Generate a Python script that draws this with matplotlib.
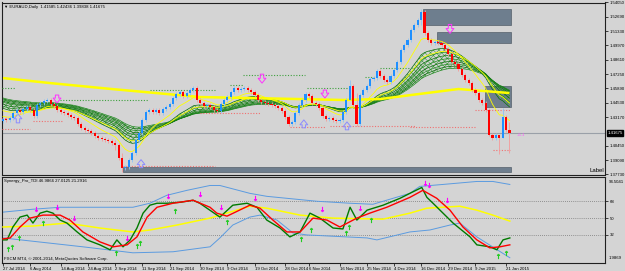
import numpy as np
import matplotlib
matplotlib.use("Agg")
import matplotlib.pyplot as plt
import matplotlib.transforms as mtransforms
from matplotlib.patches import Rectangle

plt.rcParams["font.family"] = ["Liberation Sans", "DejaVu Sans"]
plt.rcParams["hatch.linewidth"] = 0.4

# ---- price data (daily EURAUD closes) ----
CLOSES = [
    1.4301, 1.4291, 1.4310, 1.4357, 1.4386, 1.4367, 1.4395, 1.4414, 1.4386, 1.4329,
    1.4433, 1.4452, 1.4471, 1.4480, 1.4442, 1.4423, 1.4386, 1.4367, 1.4357, 1.4338,
    1.4320, 1.4310, 1.4253, 1.4216, 1.4197, 1.4187, 1.4168, 1.4140, 1.4121, 1.4112,
    1.4102, 1.4093, 1.4074, 1.4055, 1.3932, 1.3838, 1.3848, 1.3914, 1.3980, 1.4102,
    1.4168, 1.4291, 1.4367, 1.4386, 1.4367, 1.4386, 1.4357, 1.4395, 1.4414, 1.4442,
    1.4499, 1.4537, 1.4555, 1.4518, 1.4546, 1.4574, 1.4593, 1.4480, 1.4452, 1.4423,
    1.4433, 1.4414, 1.4386, 1.4376, 1.4442, 1.4480, 1.4508, 1.4555, 1.4593, 1.4574,
    1.4584, 1.4593, 1.4574, 1.4555, 1.4527, 1.4480, 1.4461, 1.4452, 1.4442, 1.4433,
    1.4423, 1.4405, 1.4376, 1.4320, 1.4253, 1.4272, 1.4357, 1.4433, 1.4480, 1.4537,
    1.4518, 1.4452, 1.4442, 1.4405, 1.4329, 1.4301, 1.4310, 1.4291, 1.4282, 1.4291,
    1.4367, 1.4480, 1.4612, 1.4433, 1.4253, 1.4527, 1.4574, 1.4612, 1.4678, 1.4688,
    1.4754, 1.4707, 1.4669, 1.4650, 1.4707, 1.4763, 1.4839, 1.4952, 1.4999, 1.5046,
    1.5141, 1.5188, 1.5235, 1.5311, 1.5112, 1.5046, 1.5018, 1.5028, 1.5018, 1.4999,
    1.4961, 1.4914, 1.4839, 1.4820, 1.4773, 1.4716, 1.4669, 1.4640, 1.4574, 1.4546,
    1.4480, 1.4452, 1.4386, 1.4150, 1.4121, 1.4150, 1.4121, 1.4319, 1.4197, 1.41675,
]
FIRST_OPEN = 1.4282
# bars with long wicks: index -> (high, low)
WICKS = {
    9: (1.4405, 1.4310), 33: (1.4102, 1.4008), 35: (1.3980, 1.3800),
    102: (1.4669, 1.4480), 104: (1.4546, 1.4230), 123: (1.5348, 1.5188),
    143: (1.4405, 1.4140), 146: (1.4150, 1.3970), 147: (1.4405, 1.4121),
    149: (1.4272, 1.3980),
}
LAST_PRICE = 1.41675

# long yellow moving average (bar, value)
SLOW_MA_BARS = [0, 14, 32, 58, 87, 100, 111, 120, 134, 149]
SLOW_MA_VALS = [1.4688, 1.4640, 1.4584, 1.4508, 1.4489, 1.4480, 1.4489, 1.4527, 1.4584, 1.4546]

# green EMA ribbon: periods and starting values
RIBBON_PERIODS = [18, 22, 26, 30, 34, 38, 42, 46]
RIBBON_SEEDS = [1.4414, 1.4433, 1.4452, 1.4471, 1.4480, 1.4490, 1.4499, 1.4508]
# thin yellow EMAs
FAST_PERIODS = [10, 21]
FAST_SEEDS = [1.4330, 1.4386]

# supply / demand zones: (bar0, bar1, low, high)
ZONES = [
    (123.5, 149.5, 1.5188, 1.5339),
    (127.6, 149.5, 1.5018, 1.5122),
    (141.8, 149.5, 1.4414, 1.4612),
    (35.3, 149.5, 1.3800, 1.3848),
]
# dotted levels: (bar0, bar1, price)
RES_LEVELS = [
    (-0.3, 3.5, 1.4593), (16.8, 42.6, 1.4480), (43.2, 62.4, 1.4574),
    (66.8, 70.6, 1.4622), (70.6, 88.8, 1.4716), (89.4, 101.2, 1.4593),
    (106.5, 109.4, 1.4697), (110.9, 121.2, 1.4782),
]
SUP_LEVELS = [
    (-0.3, 1.5, 1.4310), (-0.3, 7.9, 1.4206), (8.8, 17.6, 1.4282),
    (35.3, 62.4, 1.3858), (57.9, 75.6, 1.4357), (84.4, 94.7, 1.4225),
    (96.2, 121.2, 1.4235), (119.7, 138.8, 1.4225), (138.8, 149.1, 1.4386),
    (144.1, 149.1, 1.4008),
]
# signal arrows: (bar, tail, tip)
BUY_ARROWS = [(4.4, 1.4263, 1.4348), (40.6, 1.3838, 1.3914),
              (88.5, 1.4216, 1.4291), (101.2, 1.4197, 1.4272)]
SELL_ARROWS = [(15.9, 1.4527, 1.4452), (76.2, 1.4725, 1.4640),
               (94.7, 1.4574, 1.4499), (131.5, 1.5197, 1.5112)]

PRICE_TICKS = [1.37730, 1.39090, 1.40450, 1.43170, 1.44530, 1.45890, 1.47250,
               1.48610, 1.49970, 1.51330, 1.52690, 1.54050]

# ---- TDI sub window (bar, value) ----
TDI_GREEN_X = [0, 1.2, 2.9, 5.0, 7.1, 8.8, 10.9, 12.9, 14.7, 16.8, 18.8, 21.8, 24.7, 28.5,
               31.5, 33.5, 35.3, 37.4, 39.4, 41.2, 43.2, 45.3, 48.2, 52.1, 55.9, 57.9,
               60.0, 63.8, 67.6, 71.8, 74.7, 77.6, 81.5, 84.4, 87.4, 90.3, 93.2, 97.1,
               100.0, 102.1, 104.1, 107.1, 111.8, 116.8, 119.7, 123.2, 124.7, 126.5,
               132.4, 137.4, 139.4, 143.2, 145.3, 147.1, 149.1]
TDI_GREEN_Y = [26.7, 26.7, 40.5, 51.1, 53.2, 44.7, 55.3, 57.4, 55.3, 47.9, 44.7, 35.2, 26.7,
               21.4, 16.1, 26.7, 19.3, 26.7, 39.4, 55.3, 63.8, 65.9, 65.9, 66.9, 69.1, 65.9,
               60.6, 51.1, 63.8, 65.9, 61.6, 47.9, 39.4, 29.9, 35.2, 55.3, 50.0, 39.4,
               38.4, 61.6, 47.9, 58.5, 63.8, 71.2, 76.5, 82.8, 72.2, 65.9,
               44.7, 29.9, 21.4, 19.3, 16.1, 26.7, 28.8]
TDI_RED_X = [0, 2.1, 5.0, 7.9, 11.8, 16.8, 19.7, 23.5, 28.5, 32.4, 36.5, 39.4, 42.4, 45.3,
             50.0, 55.9, 60.9, 62.9, 65.9, 72.6, 75.6, 79.4, 83.5, 87.4, 91.2, 95.3, 99.1,
             104.1, 107.9, 112.9, 119.7, 123.5, 127.6, 131.5, 135.3, 139.4, 143.2, 146.2,
             149.1]
TDI_RED_Y = [27.8, 28.8, 40.5, 50.0, 53.2, 53.2, 47.9, 35.2, 24.6, 19.3, 21.4, 29.9, 51.1,
             61.6, 65.9, 69.1, 61.6, 55.3, 52.1, 63.8, 60.6, 47.9, 35.2, 35.2, 50.0, 47.9,
             40.5, 50.0, 55.3, 61.6, 72.2, 79.7, 71.2, 58.5, 40.5, 26.7, 18.2, 19.3, 21.4]
TDI_BASE_X = [0, 8.8, 18.8, 28.5, 38.2, 43.2, 51.2, 60.9, 72.6, 77.6, 87.4, 97.1, 111.8,
              119.7, 124.7, 134.4, 139.4, 144.1, 149.1]
TDI_BASE_Y = [40.5, 41.5, 44.7, 39.4, 35.2, 37.3, 42.6, 50.0, 62.7, 60.6, 53.2, 50.0, 48.9,
              55.3, 60.6, 62.7, 58.5, 53.2, 46.8]
TDI_UP_X = [0, 8.8, 16.8, 28.5, 38.2, 43.2, 48.2, 54.1, 60.9, 63.8, 72.6, 77.6, 92.4,
            102.1, 108.8, 119.7, 122.6, 129.4, 139.4, 144.1, 149.1]
TDI_UP_Y = [56.4, 59.5, 61.6, 61.6, 61.6, 65.9, 74.4, 79.7, 84.9, 84.9, 76.5, 73.3, 68.0,
            65.9, 64.8, 76.5, 83.9, 86.0, 89.2, 89.2, 86.0]
TDI_DN_X = [0, 23.5, 38.2, 50.0, 60.9, 63.8, 67.6, 72.6, 75.6, 80.6, 85.3, 89.4, 107.1,
            110.0, 119.7, 125.6, 131.5, 134.4, 139.4, 149.1]
TDI_DN_Y = [28.8, 19.3, 12.9, 14.0, 19.3, 28.8, 42.6, 51.1, 53.2, 47.9, 34.1, 32.0, 28.8,
            26.7, 35.2, 37.3, 42.6, 44.7, 29.9, 7.6]
TDI_SELL_X = [9.7, 15.9, 20.9, 36.5, 48.5, 57.9, 64.1, 74.1, 93.8, 105.0, 124.1, 125.3, 130.6]
TDI_SELL_Y = [59.5, 61.6, 50.0, 28.8, 73.3, 75.4, 61.6, 71.2, 59.5, 60.6, 87.1, 85.0, 69.1]
TDI_BUY_X = [1.5, 2.6, 4.7, 11.8, 33.2, 39.4, 40.3, 50.6, 65.9, 87.6, 90.6, 100.9, 101.8,
             108.2, 145.6, 147.9]
TDI_BUY_Y = [17.2, 19.3, 28.8, 44.7, 12.9, 20.3, 23.5, 57.4, 45.8, 27.8, 37.3, 34.1, 40.5,
             47.9, 9.8, 12.9]
TDI_LEVELS = [68, 50, 32]

DATE_BARS = [0, 8, 17, 25, 33, 41, 49, 58, 66, 74, 83, 90, 99, 107, 115, 123, 131, 139, 148]
DATE_LABELS = ["27 Jul 2014", "6 Aug 2014", "14 Aug 2014", "24 Aug 2014", "2 Sep 2014",
               "11 Sep 2014", "21 Sep 2014", "30 Sep 2014", "9 Oct 2014", "19 Oct 2014",
               "28 Oct 2014", "6 Nov 2014", "16 Nov 2014", "25 Nov 2014", "4 Dec 2014",
               "16 Dec 2014", "29 Dec 2014", "9 Jan 2015", "21 Jan 2015"]

BG = "#D4D4D4"
FS = 3.1


def ema(values, period, seed):
    a = 2.0 / (period + 1)
    out = []
    cur = seed
    for v in values:
        cur = cur + a * (v - cur)
        out.append(cur)
    return np.array(out)


def hollow_arrow(ax, x, y0, y1, color):
    ax.annotate("", xy=(x, y1), xytext=(x, y0),
                arrowprops=dict(arrowstyle="simple,head_length=0.5,head_width=0.8,tail_width=0.35",
                                fc="none", ec=color, lw=0.7, shrinkA=0, shrinkB=0,
                                mutation_scale=7))


fig = plt.figure(figsize=(6.25, 2.71), dpi=100, facecolor=BG)
ax = fig.add_axes([2 / 625, 96.5 / 271, 603 / 625, 172 / 271], facecolor=BG)
sub = fig.add_axes([2 / 625, 8 / 271, 603 / 625, 86.5 / 271], facecolor=BG)

XLIM = (-0.3, 177.1)
closes = np.array(CLOSES)
idx = np.arange(len(closes))
opens = np.concatenate([[FIRST_OPEN], closes[:-1]])

# zones first (behind everything)
for b0, b1, lo, hi in ZONES:
    ax.add_patch(Rectangle((b0, lo), b1 - b0, hi - lo, fc="#6E7E8E", ec="#55606B",
                           lw=0.5, zorder=1))

# ribbon
ribbon = np.array([ema(closes, p, s) for p, s in zip(RIBBON_PERIODS, RIBBON_SEEDS)])
ax.fill_between(idx, ribbon.min(axis=0), ribbon.max(axis=0), facecolor="none",
                edgecolor="#3C9A3C", hatch="xxxxxx", lw=0, zorder=2)
for k, line in enumerate(ribbon):
    ax.plot(idx, line, color="#1F8A1F" if k % 2 else "#0A6E0A", lw=0.5, zorder=2)

# slow yellow MA and fast yellow EMAs
ax.plot(SLOW_MA_BARS, SLOW_MA_VALS, color="#FFFF00", lw=1.8, zorder=3,
        solid_capstyle="butt")
for p, s in zip(FAST_PERIODS, FAST_SEEDS):
    ax.plot(idx, ema(closes, p, s), color="#FFFF00", lw=0.6, zorder=3)

# levels
for b0, b1, p in RES_LEVELS:
    ax.plot([b0, b1], [p, p], color="#3FA03F", lw=0.8, ls=(0, (1, 1.5)), zorder=3)
for b0, b1, p in SUP_LEVELS:
    ax.plot([b0, b1], [p, p], color="#F07070", lw=0.8, ls=(0, (1, 1.5)), zorder=3)

# current price line
ax.axhline(LAST_PRICE, color="#9AA0A8", lw=0.8, zorder=1.5)

# candles
for i in idx:
    o, c = opens[i], closes[i]
    top, bot = max(o, c), min(o, c)
    hi, lo = WICKS.get(i, (top + 0.0019, bot - 0.0019))
    up = c >= o
    ax.vlines(i, lo, hi, color="#8FC4F5" if up else "#F59A9A", lw=0.6, zorder=4)
    ax.bar(i, max(top - bot, 0.0006), bottom=bot, width=0.62,
           color="#1E8FFF" if up else "#FF0000", lw=0, zorder=5)

for x, y0, y1 in BUY_ARROWS:
    hollow_arrow(ax, x, y0, y1, "#8C8CFF")
for x, y0, y1 in SELL_ARROWS:
    hollow_arrow(ax, x, y0, y1, "#FF33FF")

ax.text(151.2, 1.4150, "+5.1", color="#FF55FF", fontsize=FS, va="center", zorder=6)

ax.set_xlim(*XLIM)
ax.set_ylim(1.3777, 1.5400)
ax.yaxis.tick_right()
ax.set_yticks(PRICE_TICKS)
ax.set_yticklabels([f"{t:.5f}" for t in PRICE_TICKS])
ax.tick_params(axis="y", labelsize=FS, length=2, width=0.5, pad=1.2, colors="black")
ax.set_xticks([])
for s in ax.spines.values():
    s.set_color("#202020")
    s.set_linewidth(0.8)

trans = mtransforms.blended_transform_factory(ax.transAxes, ax.transData)
ax.text(1.004, LAST_PRICE, f"{LAST_PRICE:.5f}", transform=trans, fontsize=FS,
        color="white", va="center", ha="left",
        bbox=dict(fc="black", ec="black", pad=0.5), zorder=7, clip_on=False)
ax.text(0.004, 0.985, "\u25bc EURAUD,Daily  1.41585 1.42436 1.39838 1.41675",
        transform=ax.transAxes, fontsize=FS, va="top", ha="left", color="black")
ax.text(0.9985, 0.008, "Label", transform=ax.transAxes, fontsize=FS + 1.2,
        va="bottom", ha="right", color="black")

# ---- TDI window ----
for lv in TDI_LEVELS:
    sub.axhline(lv, color="#7A7A7A", lw=0.6, ls=(0, (1, 1.5)), zorder=1)
sub.plot(TDI_UP_X, TDI_UP_Y, color="#5B9BE0", lw=0.7, zorder=2)
sub.plot(TDI_DN_X, TDI_DN_Y, color="#5B9BE0", lw=0.7, zorder=2)
sub.plot(TDI_BASE_X, TDI_BASE_Y, color="#FFFF00", lw=1.1, zorder=3)
sub.plot(TDI_GREEN_X, TDI_GREEN_Y, color="#007A00", lw=1.0, zorder=4)
sub.plot(TDI_RED_X, TDI_RED_Y, color="#FF0000", lw=1.0, zorder=5)
sub.scatter(TDI_SELL_X, TDI_SELL_Y, marker=r"$\downarrow$", s=12, color="#FF00FF",
            lw=0.4, zorder=6)
sub.scatter(TDI_BUY_X, TDI_BUY_Y, marker=r"$\uparrow$", s=12, color="#22CC22",
            lw=0.4, zorder=6)

sub.set_xlim(*XLIM)
sub.set_ylim(1.9869, 94.5041)
sub.yaxis.tick_right()
sub.set_yticks(TDI_LEVELS)
sub.set_yticklabels([str(v) for v in TDI_LEVELS])
sub.tick_params(axis="y", labelsize=FS, length=2, width=0.5, pad=1.2)
sub.set_xticks(DATE_BARS)
sub.set_xticklabels(DATE_LABELS, ha="left")
sub.tick_params(axis="x", labelsize=FS, length=2, width=0.5, pad=0.8)
for s in sub.spines.values():
    s.set_color("#202020")
    s.set_linewidth(0.8)
sub.text(1.006, 0.965, "94.5041", transform=sub.transAxes, fontsize=FS, va="top")
sub.text(1.006, 0.035, "1.9869", transform=sub.transAxes, fontsize=FS, va="bottom")
sub.text(0.004, 0.975, "Synergy_Pro_TDI 46.9866 27.0125 21.2916", transform=sub.transAxes,
         fontsize=FS, va="top", ha="left")
sub.text(0.004, 0.02, "FXCM MT4, \u00a9 2001-2014, MetaQuotes Software Corp.",
         transform=sub.transAxes, fontsize=FS, va="bottom", ha="left")

fig.savefig("out.png", dpi=100, facecolor=BG)
